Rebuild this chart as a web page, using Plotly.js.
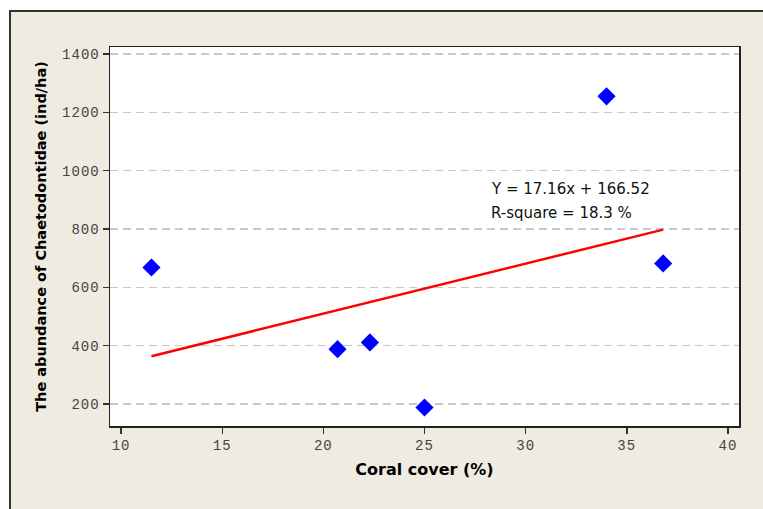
<!DOCTYPE html>
<html>
<head>
<meta charset="utf-8">
<script src="https://cdn.plot.ly/plotly-3.0.1.min.js"></script>
<style>
  body { margin: 0; background: #ffffff; }
  #frame { position: absolute; left: 9px; top: 10px; width: 754px; height: 499px;
           background: #efebe1; border-top: 2px solid #333; border-left: 2px solid #333; box-sizing: border-box; }
  #chart { position: absolute; left: 0; top: 0; width: 763px; height: 509px; }
  .xtick text, .ytick text { letter-spacing: 1px; }
</style>
</head>
<body>
<div id="frame"></div>
<div id="chart"></div>
<script>
const coralCover = [11.5, 20.7, 22.3, 25.0, 34.0, 36.8];
const abundance = [668, 388, 411, 188, 1255, 682];
const slope = 17.16;
const intercept = 166.52;
const lineX = [11.5, 36.8];
const lineY = lineX.map(x => slope * x + intercept);
const xTicks = [10, 15, 20, 25, 30, 35, 40];
const yTicks = [200, 400, 600, 800, 1000, 1200, 1400];
const eqText = 'Y = 17.16x + 166.52';
const rText = 'R-square = 18.3 %';

const tickFont = { family: 'Liberation Mono, monospace', size: 14, color: '#444' };

const data = [
  { x: coralCover, y: abundance, type: 'scatter', mode: 'markers',
    marker: { symbol: 'diamond', size: 14, color: '#0000ff' }, showlegend: false },
  { x: lineX, y: lineY, type: 'scatter', mode: 'lines',
    line: { color: '#ff0000', width: 2.5 }, showlegend: false }
];

const layout = {
  width: 763, height: 509,
  margin: { l: 110, r: 24, t: 47, b: 83 },
  paper_bgcolor: 'rgba(0,0,0,0)',
  plot_bgcolor: '#ffffff',
  xaxis: {
    range: [9.45, 40.55], tickvals: xTicks, ticktext: xTicks.map(String),
    showgrid: false, zeroline: false,
    showline: true, mirror: true, linecolor: '#222', linewidth: 1.5,
    ticks: 'outside', ticklen: 6, tickcolor: '#333', tickwidth: 1.5,
    tickfont: tickFont,
    title: { text: 'Coral cover (%)', font: { family: 'DejaVu Sans, sans-serif', size: 16, color: '#000', weight: 'bold' }, standoff: 10 }
  },
  yaxis: {
    range: [124.6, 1424], tickvals: yTicks, ticktext: yTicks.map(String),
    showgrid: true, gridcolor: '#c8c8c8', griddash: '8px,5px', gridwidth: 1.3,
    zeroline: false,
    showline: true, mirror: true, linecolor: '#222', linewidth: 1.5,
    ticks: 'outside', ticklen: 6, tickcolor: '#333', tickwidth: 1.5,
    tickfont: tickFont,
    title: { text: 'The abundance of Chaetodontidae (ind/ha)', font: { family: 'DejaVu Sans, sans-serif', size: 14.5, color: '#000', weight: 'bold' }, standoff: 12 }
  },
  annotations: [
    { x: 28.19, y: 937, xref: 'x', yref: 'y', text: eqText, showarrow: false, xanchor: 'left', yanchor: 'middle',
      font: { family: 'DejaVu Sans, sans-serif', size: 15, color: '#111' } },
    { x: 28.19, y: 855, xref: 'x', yref: 'y', text: rText, showarrow: false, xanchor: 'left', yanchor: 'middle',
      font: { family: 'DejaVu Sans, sans-serif', size: 15, color: '#111' } }
  ]
};

Plotly.newPlot('chart', data, layout, { displayModeBar: false, staticPlot: true });
</script>
</body>
</html>
